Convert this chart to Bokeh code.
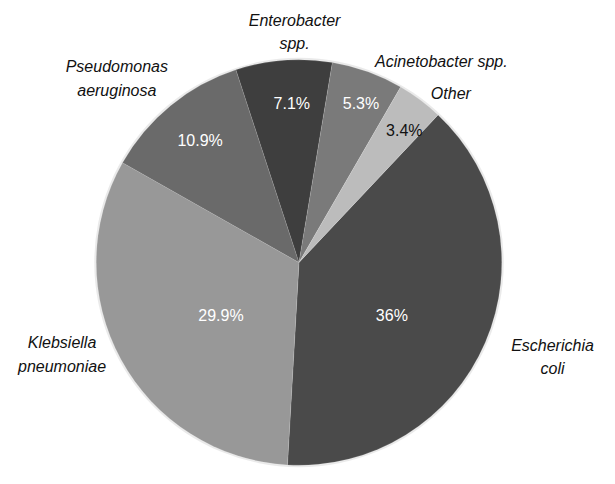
import numpy as np
from bokeh.plotting import figure
from bokeh.models import Range1d, ColumnDataSource
from bokeh.core.properties import value
from bokeh.embed import file_html
from bokeh.resources import INLINE

# ---- data ----
categories = ["Escherichia coli", "Klebsiella pneumoniae", "Pseudomonas aeruginosa",
              "Enterobacter spp.", "Acinetobacter spp.", "Other"]
percent = [36.0, 29.9, 10.9, 7.1, 5.3, 3.4]
pct_labels = ["36%", "29.9%", "10.9%", "7.1%", "5.3%", "3.4%"]
name_labels = ["Escherichia\ncoli", "Klebsiella\npneumoniae", "Pseudomonas\naeruginosa",
               "Enterobacter\nspp.", "Acinetobacter spp.", "Other"]

# ---- style / layout ----
colors = ["#4a4a4a", "#989898", "#6a6a6a", "#3e3e3e", "#7a7a7a", "#bcbcbc"]
pct_colors = ["#ffffff", "#ffffff", "#ffffff", "#ffffff", "#ffffff", "#111111"]
W, H = 599, 468
S = 0.97                      # overall scale to fit the window
cx, cy = 298.5, H - 262.0     # pie centre (data units == pixels)
R = 209.0 * S
start_cw = 43.3  # degrees clockwise from 12 o'clock where first slice begins
# label placement (polar, clockwise from top, reference pixels from centre)
pct_ang = [119.5, 236.0, 321.0, 357.4, 21.3, 38.6]
pct_r = [110, 97, 162, 164, 176, 174]
name_ang = [110.5, 248.8, 315.3, 358.9, 35.25, 42.0]
name_r = [279, 262, 267, 237.5, 254.3, 234]

vals = np.array(percent)
spans = vals / vals.sum() * 360.0
cw_start = start_cw + np.concatenate([[0], np.cumsum(spans)[:-1]])
cw_end = cw_start + spans
start_angle = np.radians(90.0 - cw_end)
end_angle = np.radians(90.0 - cw_start)

src = ColumnDataSource(dict(cat=categories, start=start_angle, end=end_angle, color=colors))

p = figure(width=W, height=H, output_backend="svg", toolbar_location=None,
           x_range=Range1d(0, W), y_range=Range1d(0, H), min_border=0)
p.axis.visible = False
p.grid.visible = False
p.outline_line_color = None
p.background_fill_color = "white"
p.border_fill_color = "white"

# soft shadow rim
p.annulus(x=cx, y=cy, inner_radius=R - 1, outer_radius=R + 2, fill_color="#707070",
          fill_alpha=0.15, line_color=None)

p.wedge(x=cx, y=cy, radius=R, start_angle="start", end_angle="end",
        fill_color="color", line_color="white", line_alpha=0.15, line_width=0.8, source=src)


def polar(ang, r):
    a = np.radians(np.array(ang))
    r = np.array(r, dtype=float) * S
    return cx + r * np.sin(a), cy + r * np.cos(a)


px, py = polar(pct_ang, pct_r)
p.text(x=px, y=py, text=pct_labels, text_color=pct_colors,
       text_font=value("Liberation Sans"), text_font_size="16px",
       text_align="center", text_baseline="middle")

nx, ny = polar(name_ang, name_r)
p.text(x=nx, y=ny, text=name_labels, text_color="#111111",
       text_font=value("Liberation Sans"), text_font_style="italic",
       text_font_size="16px", text_line_height=1.38,
       text_align="center", text_baseline="middle")

open("out.html", "w").write(file_html(p, INLINE))
